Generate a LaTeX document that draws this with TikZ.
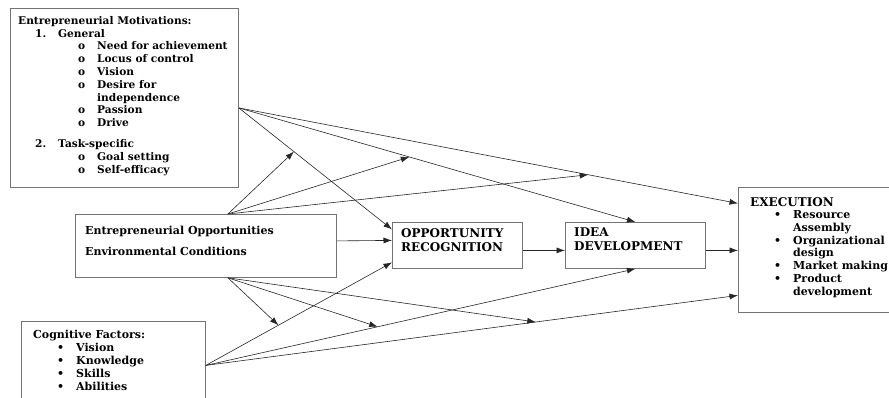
\documentclass[tikz,border=0pt]{standalone}
\usepackage{fontspec}
\setmainfont{DejaVu Serif}
\usetikzlibrary{arrows.meta}
\newcommand{\oitem}[1]{\hspace*{60pt}\makebox[19pt][l]{o}#1}
\newcommand{\bitem}[1]{\hspace*{24pt}\makebox[19pt][l]{\textbullet}#1}
\tikzset{
  box/.style={draw=black!55, line width=0.8pt, anchor=north west, inner sep=0pt},
  txt/.style={anchor=north west, inner sep=0pt, align=left, font=\fontsize{11}{12.7}\selectfont\bfseries},
  arr/.style={-{Latex[length=8.5pt,width=6pt]}, black!85, line width=0.6pt}
}
\begin{document}
\begin{tikzpicture}[x=1pt,y=-1pt]
	\clip (0,0) rectangle (889,398);
	\node[box,minimum width=228pt,minimum height=179pt] (mot) at (10,8) {};
	\node[box,minimum width=261pt,minimum height=63pt] (eo) at (75,214) {};
	\node[box,minimum width=184pt,minimum height=88pt] (cog) at (21,321) {};
	\node[box,minimum width=130pt,minimum height=46pt] (or) at (392,222) {};
	\node[box,minimum width=140pt,minimum height=46pt] (id) at (565,222) {};
	\node[box,minimum width=160pt,minimum height=125pt] (ex) at (738,187) {};
	\node[txt,font=\fontsize{10.6}{12.8}\selectfont\bfseries] (motT) at (18,16) {Entrepreneurial Motivations:\\
		\hspace*{17pt}\makebox[23pt][l]{1.}General\\
		\oitem{Need for achievement}\\ \oitem{Locus of control}\\ \oitem{Vision}\\
		\oitem{Desire for}\\ \hspace*{79pt}independence\\ \oitem{Passion}\\ \oitem{Drive}\\[8.5pt]
		\hspace*{17pt}\makebox[23pt][l]{2.}Task-specific\\
		\oitem{Goal setting}\\ \oitem{Self-efficacy}};
	\node[txt,font=\fontsize{11}{21}\selectfont\bfseries] (eoT) at (85,226) {Entrepreneurial Opportunities\\ Environmental Conditions};
	\node[txt,font=\fontsize{11}{13}\selectfont\bfseries] (cogT) at (33,330) {Cognitive Factors:\\
		\bitem{Vision}\\ \bitem{Knowledge}\\ \bitem{Skills}\\ \bitem{Abilities}};
	\node[txt,font=\fontsize{12}{14}\selectfont\bfseries] (orT) at (401,228) {OPPORTUNITY\\ RECOGNITION};
	\node[txt,font=\fontsize{12}{14}\selectfont\bfseries] (idT) at (574,228) {IDEA\\ DEVELOPMENT};
	\node[txt] (exT) at (750,197) {{\fontsize{12}{12.7}\selectfont EXECUTION}\\ \bitem{Resource}\\ \hspace*{43pt}Assembly\\
		\bitem{Organizational}\\ \hspace*{43pt}design\\ \bitem{Market making}\\
		\bitem{Product}\\ \hspace*{43pt}development};
	\coordinate (mf) at ([yshift=-10pt]mot.east);
	\coordinate (ef) at ([xshift=22pt]eo.north);
	\coordinate (eb) at ([xshift=22pt]eo.south);
	\coordinate (cf) at (cog.east);
	\draw[arr] (mf) -- ([yshift=16pt]or.west) coordinate[pos=0.36] (m1);
	\draw[arr] (mf) -- (id.north) coordinate[pos=0.43] (m2);
	\draw[arr] (mf) -- ([yshift=46.5pt]ex.west) coordinate[pos=0.70] (m3);
	\draw[arr] (cf) -- ([yshift=-17pt]or.west) coordinate[pos=0.39] (c1);
	\draw[arr] (cf) -- (id.south) coordinate[pos=0.40] (c2);
	\draw[arr] (cf) -- ([yshift=-45.5pt]ex.west) coordinate[pos=0.62] (c3);
	\foreach \t in {m1,m2,m3} \draw[arr] (ef) -- (\t);
	\foreach \t in {c1,c2,c3} \draw[arr] (eb) -- (\t);
	\draw[arr] ([yshift=5pt]eo.east) -- ([yshift=5pt]or.west);
	\draw[arr] ([yshift=-5pt]or.east) -- ([yshift=-5pt]id.west);
	\draw[arr] ([yshift=-5pt]id.east) -- ([yshift=-5pt]id.east -| ex.west);
\end{tikzpicture}
\end{document}
